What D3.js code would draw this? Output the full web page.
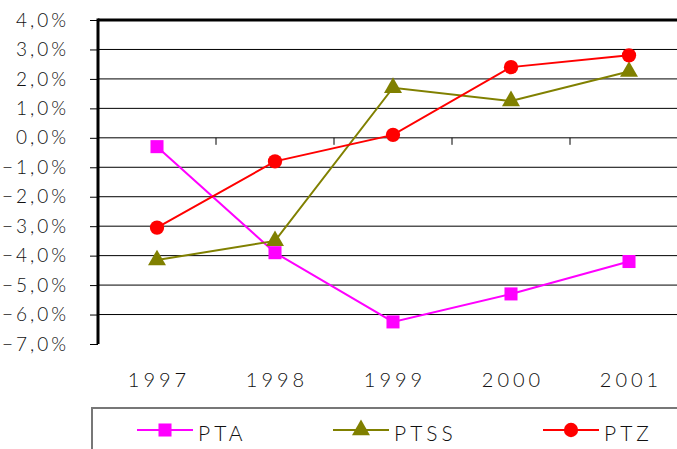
<!DOCTYPE html>
<html>
<head>
<meta charset="utf-8">
<script src="https://cdn.jsdelivr.net/npm/d3@7"></script>
<style>
  body { margin: 0; background: #fff; }
  text { font-family: Lato, "Liberation Sans", Arial, sans-serif; font-weight: 300; fill: #111; }
</style>
</head>
<body>
<svg id="chart" width="677" height="449"></svg>
<script>
const years = ["1997", "1998", "1999", "2000", "2001"];
const yTicks = [4, 3, 2, 1, 0, -1, -2, -3, -4, -5, -6, -7];
const pta = [-0.3, -3.9, -6.25, -5.3, -4.2];
const ptss = [-4.15, -3.5, 1.7, 1.25, 2.25];
const ptz = [-3.05, -0.8, 0.1, 2.4, 2.8];
const seriesNames = ["PTA", "PTSS", "PTZ"];

const margin = { left: 98, top: 20 };
const width = 590, height = 324;

const svg = d3.select('#chart');
const g = svg.append('g')
    .attr('transform', `translate(${margin.left},${margin.top})`);

const xScale = d3.scaleBand().domain(years).range([0, width]);
const yScale = d3.scaleLinear().domain([-7, 4]).range([height, 0]);

const series = [
  { name: seriesNames[0], values: pta, color: "#ff00ff", marker: d3.symbolSquare, size: 170 },
  { name: seriesNames[1], values: ptss, color: "#808000", marker: d3.symbolTriangle, size: 140 },
  { name: seriesNames[2], values: ptz, color: "#ff0000", marker: d3.symbolCircle, size: 160 }
];

// gridlines
g.selectAll('.grid')
  .data(yTicks.filter(d => d > -7))
  .enter().append('line')
  .attr('x1', 0).attr('x2', width)
  .attr('y1', d => yScale(d)).attr('y2', d => yScale(d))
  .attr('stroke', '#000')
  .attr('stroke-width', d => d === 4 ? 3 : 1);

// y axis
const yAxis = d3.axisLeft(yScale)
  .tickValues(yTicks)
  .tickSize(8)
  .tickPadding(21)
  .tickFormat(d => d3.format('.1f')(d).replace('.', ',') + '%');
const yAxisG = g.append('g').call(yAxis);
yAxisG.select('.domain').remove();
yAxisG.selectAll('.tick line').attr('stroke', '#000');
yAxisG.selectAll('.tick text')
  .style('font-size', '19px')
  .style('letter-spacing', '3px')
  .attr('fill', '#222');
g.append('line')
  .attr('x1', 0).attr('x2', 0)
  .attr('y1', -1.5).attr('y2', height)
  .attr('stroke', '#000').attr('stroke-width', 3);

// category ticks at zero line
g.selectAll('.xtick')
  .data(years.slice(1))
  .enter().append('line')
  .attr('x1', d => xScale(d)).attr('x2', d => xScale(d))
  .attr('y1', yScale(0)).attr('y2', yScale(0) + 7)
  .attr('stroke', '#000');

// year labels
g.selectAll('.xlabel')
  .data(years)
  .enter().append('text')
  .attr('x', d => xScale(d) + xScale.bandwidth() / 2 + 2)
  .attr('y', height + 43)
  .attr('text-anchor', 'middle')
  .style('font-size', '20px')
  .style('letter-spacing', '4px')
  .text(d => d);

// lines & markers
const line = d3.line()
  .x((d, i) => xScale(years[i]) + xScale.bandwidth() / 2)
  .y(d => yScale(d));

series.forEach(s => {
  g.append('path')
    .attr('d', line(s.values))
    .attr('fill', 'none')
    .attr('stroke', s.color)
    .attr('stroke-width', 2);
  g.selectAll(null)
    .data(s.values)
    .enter().append('path')
    .attr('d', d3.symbol().type(s.marker).size(s.size))
    .attr('transform', (d, i) => `translate(${xScale(years[i]) + xScale.bandwidth() / 2},${yScale(d)})`)
    .attr('fill', s.color);
});

// legend
const legend = svg.append('g').attr('transform', 'translate(92,408)');
legend.append('rect')
  .attr('x', 0).attr('y', 0)
  .attr('width', 600).attr('height', 60)
  .attr('fill', 'none')
  .attr('stroke', '#777')
  .attr('stroke-width', 2);
const legendX = [45, 241, 451];
series.forEach((s, i) => {
  const lg = legend.append('g').attr('transform', `translate(${legendX[i]},22)`);
  lg.append('line')
    .attr('x1', 0).attr('x2', 56)
    .attr('stroke', s.color).attr('stroke-width', 2);
  lg.append('path')
    .attr('d', d3.symbol().type(s.marker).size(s.size))
    .attr('transform', 'translate(28,0)')
    .attr('fill', s.color);
  lg.append('text')
    .attr('x', 61).attr('y', 11)
    .style('font-size', '21px')
    .style('letter-spacing', '4px')
    .text(s.name);
});
</script>
</body>
</html>
